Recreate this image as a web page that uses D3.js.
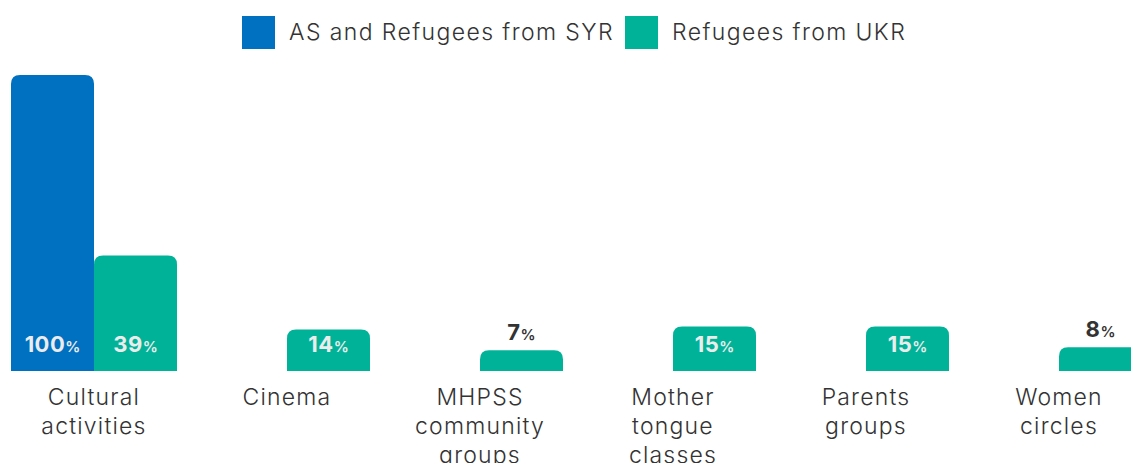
<!DOCTYPE html>
<html>
<head>
<meta charset="utf-8">
<script src="https://cdn.jsdelivr.net/npm/d3@7"></script>
<style>
  body { margin: 0; background: #fff; overflow: hidden; }
  text { font-family: Inter, "Noto Sans", sans-serif; }
</style>
</head>
<body>
<div id="chart"></div>
<script>
var w = 1131;
var h = 463;

// data
var categories = ['Cultural activities', 'Cinema', 'MHPSS community groups',
                  'Mother tongue classes', 'Parents groups', 'Women circles'];
var seriesNames = ['AS and Refugees from SYR', 'Refugees from UKR'];
var syrValues = [100, null, null, null, null, null];
var ukrValues = [39, 14, 7, 15, 15, 8];
var colors = ['#0070c0', '#00b398'];

var svg = d3.select('#chart')
            .append('svg')
            .attr('width', w)
            .attr('height', h);

// one extra empty slot so the last group runs off the right edge like the original
var slots = categories.concat(['_']);
var x0 = d3.scaleBand()
           .domain(slots)
           .range([-2.5, -2.5 + 193 * slots.length])
           .paddingInner(27 / 193)
           .paddingOuter(13.5 / 193);

var x1 = d3.scaleBand()
           .domain(seriesNames)
           .range([0, x0.bandwidth()]);

var y = d3.scaleLinear()
          .domain([0, 100])
          .range([371, 75]);

function topRounded(x, y0, bw, bh, r) {
    r = Math.min(r, bh);
    return 'M' + x + ',' + (y0 + bh) +
           'V' + (y0 + r) +
           'Q' + x + ',' + y0 + ' ' + (x + r) + ',' + y0 +
           'H' + (x + bw - r) +
           'Q' + (x + bw) + ',' + y0 + ' ' + (x + bw) + ',' + (y0 + r) +
           'V' + (y0 + bh) + 'Z';
}

var rows = categories.map(function(c, i) {
    return { cat: c, vals: [syrValues[i], ukrValues[i]] };
});

var groups = svg.append('g')
    .selectAll('g')
    .data(rows)
    .enter()
    .append('g')
    .attr('transform', function(d) { return 'translate(' + x0(d.cat) + ',0)'; });

var bars = groups.selectAll('g.bar')
    .data(function(d) {
        return d.vals.map(function(v, j) { return { s: seriesNames[j], v: v, j: j }; })
                     .filter(function(e) { return e.v != null; });
    })
    .enter()
    .append('g')
    .attr('class', 'bar');

bars.append('path')
    .attr('d', function(d) {
        return topRounded(x1(d.s), y(d.v), x1.bandwidth(), y(0) - y(d.v), 9);
    })
    .style('fill', function(d) { return colors[d.j]; });

// value labels: inside near the base, or above the bar when it's too short
var labels = bars.append('text')
    .attr('x', function(d) { return x1(d.s) + x1.bandwidth() / 2; })
    .attr('y', function(d) {
        var inside = y(0) - y(d.v) > 32;
        return inside ? 352 : y(d.v) - 10;
    })
    .attr('text-anchor', 'middle')
    .style('fill', function(d) { return (y(0) - y(d.v) > 32) ? '#ececec' : '#333'; });

labels.append('tspan')
    .style('font-size', '22px')
    .style('font-weight', 700)
    .style('letter-spacing', '0.5px')
    .text(function(d) { return d.v; });
labels.append('tspan')
    .style('font-size', '15px')
    .style('font-weight', 600)
    .text('%');

// category labels, one word per line
var catLabels = svg.append('g')
    .selectAll('text')
    .data(categories)
    .enter()
    .append('text')
    .attr('x', function(d) { return x0(d) + x0.bandwidth() / 2; })
    .attr('y', 405)
    .attr('text-anchor', 'middle')
    .style('font-size', '23px')
    .style('font-weight', 300)
    .style('letter-spacing', '1.2px')
    .style('fill', '#333');

catLabels.each(function(d) {
    var t = d3.select(this);
    var xx = t.attr('x');
    d.split(' ').forEach(function(word, i) {
        t.append('tspan')
         .attr('x', xx)
         .attr('dy', i === 0 ? 0 : 29)
         .text(word);
    });
});

// legend
var legend = svg.append('g');
var legX = [242, 625];
seriesNames.forEach(function(s, i) {
    legend.append('rect')
          .attr('x', legX[i])
          .attr('y', 16)
          .attr('width', 33)
          .attr('height', 33)
          .style('fill', colors[i]);
    legend.append('text')
          .attr('x', legX[i] + 47)
          .attr('y', 40)
          .style('font-size', '23px')
          .style('font-weight', 300)
          .style('letter-spacing', '1.4px')
          .style('fill', '#333')
          .text(s);
});
</script>
</body>
</html>
